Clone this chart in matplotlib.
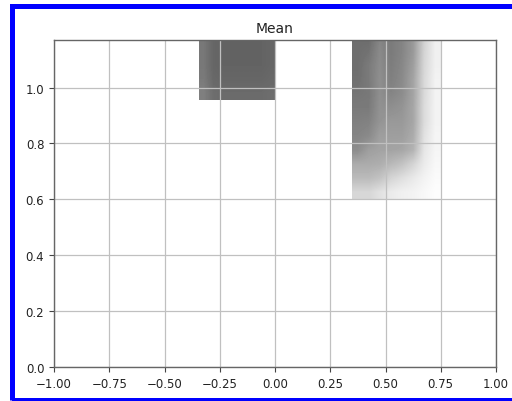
import matplotlib.pyplot as plt
from matplotlib.patches import Rectangle
import numpy as np

# mean values, rows listed top -> bottom
left_extent = [-0.345, 0.003, 0.955, 1.2]
left_mean = [[0.53, 0.60, 0.61, 0.61, 0.61, 0.61, 0.61, 0.60],
             [0.53, 0.60, 0.61, 0.61, 0.61, 0.61, 0.61, 0.60],
             [0.53, 0.60, 0.61, 0.61, 0.61, 0.61, 0.61, 0.60],
             [0.52, 0.59, 0.60, 0.60, 0.60, 0.60, 0.60, 0.59],
             [0.50, 0.57, 0.58, 0.58, 0.58, 0.58, 0.58, 0.57]]

right_extent = [0.35, 0.75, 0.6, 1.2]
right_mean = [[0.57, 0.58, 0.48, 0.52, 0.48, 0.40, 0.18, 0.06],
              [0.57, 0.55, 0.46, 0.52, 0.48, 0.40, 0.17, 0.06],
              [0.57, 0.52, 0.45, 0.51, 0.47, 0.38, 0.16, 0.06],
              [0.56, 0.52, 0.44, 0.50, 0.46, 0.36, 0.15, 0.05],
              [0.54, 0.53, 0.44, 0.48, 0.45, 0.36, 0.15, 0.05],
              [0.52, 0.52, 0.43, 0.44, 0.42, 0.35, 0.14, 0.05],
              [0.50, 0.49, 0.42, 0.40, 0.40, 0.35, 0.14, 0.05],
              [0.48, 0.46, 0.38, 0.38, 0.38, 0.33, 0.12, 0.04],
              [0.45, 0.38, 0.36, 0.36, 0.35, 0.30, 0.10, 0.04],
              [0.33, 0.33, 0.32, 0.28, 0.24, 0.17, 0.08, 0.03],
              [0.27, 0.27, 0.24, 0.17, 0.13, 0.09, 0.05, 0.02],
              [0.16, 0.16, 0.12, 0.08, 0.06, 0.05, 0.03, 0.01]]

xticks = [-1.0, -0.75, -0.5, -0.25, 0.0, 0.25, 0.5, 0.75, 1.0]
yticks = [0.0, 0.2, 0.4, 0.6, 0.8, 1.0]

fig = plt.figure(figsize=(5.12, 4.02), dpi=100)
ax = fig.add_axes([54 / 512, 34 / 402, 442 / 512, 327 / 402])

for data, ext in [(left_mean, left_extent), (right_mean, right_extent)]:
    ax.imshow(np.array(data), extent=ext, cmap='gray_r', vmin=0, vmax=1,
              interpolation='bilinear', aspect='auto', origin='upper')

ax.set_xlim(-1, 1)
ax.set_ylim(0, 1.17)
ax.set_xticks(xticks)
ax.set_yticks(yticks)
ax.set_xticklabels(['%.2f' % t if t >= 0 else '\u2212%.2f' % -t for t in xticks])
ax.grid(True, color='#c0c0c0', lw=0.9)
ax.tick_params(labelsize=8.5, colors='#444444', labelcolor='#222222')
for s in ax.spines.values():
    s.set_color('#666666')
    s.set_linewidth(1.0)
ax.set_title('Mean', fontsize=10, color='#222222')

# blue frame of the screenshot
fig.add_artist(Rectangle((11.5 / 512, 1.5 / 402), 520 / 512, (400.5 - 6.5) / 402,
                         transform=fig.transFigure, fill=False,
                         edgecolor='#0000ff', lw=3.6))

plt.savefig('out.png', dpi=100)
